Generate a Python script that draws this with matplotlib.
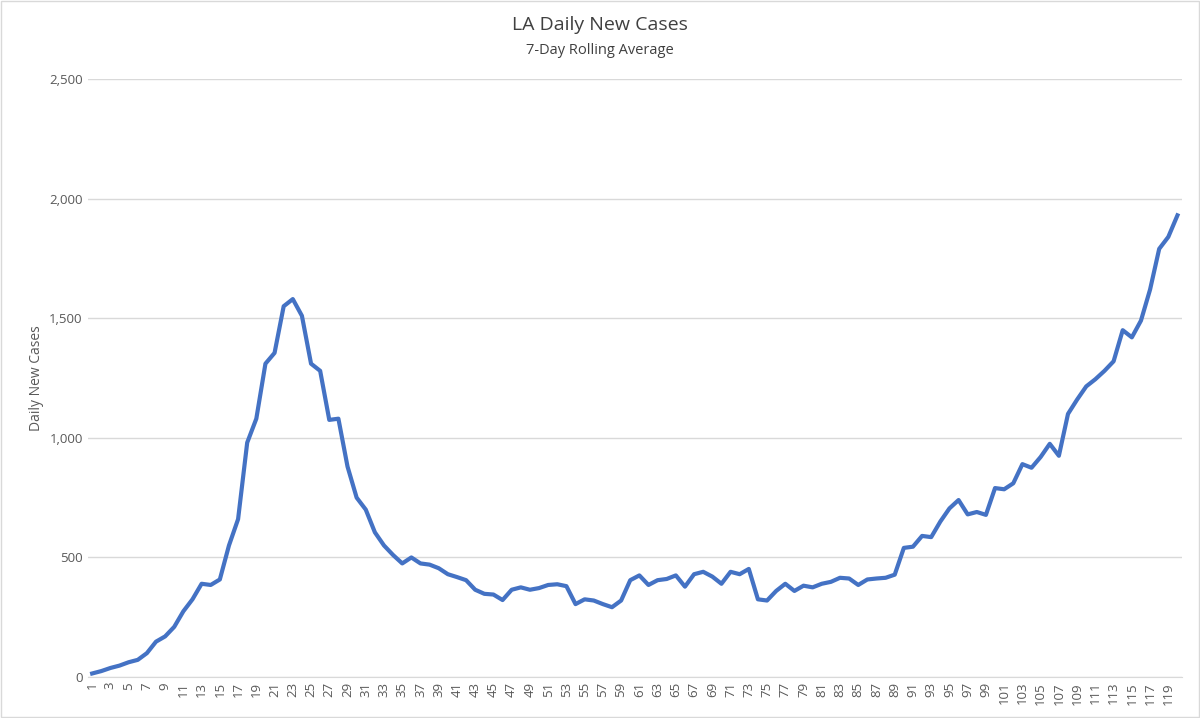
import matplotlib
matplotlib.use("Agg")
import matplotlib.pyplot as plt
from matplotlib.patches import Rectangle
from matplotlib.ticker import FuncFormatter

days = list(range(1, 121))
cases = [
    15, 25, 38, 48, 62, 72, 100, 148, 170, 210,
    275, 325, 390, 385, 408, 550, 660, 980, 1080, 1310,
    1355, 1550, 1580, 1510, 1310, 1280, 1075, 1080, 880, 750,
    700, 605, 550, 510, 475, 500, 475, 470, 455, 430,
    418, 405, 365, 348, 345, 322, 365, 375, 365, 372,
    385, 388, 380, 305, 325, 320, 305, 292, 320, 405,
    425, 385, 405, 410, 425, 378, 430, 440, 420, 390,
    440, 430, 452, 325, 320, 360, 390, 360, 382, 375,
    390, 398, 415, 412, 385, 408, 412, 415, 428, 540,
    545, 590, 585, 650, 705, 740, 680, 690, 678, 790,
    785, 810, 890, 875, 920, 975, 925, 1100, 1160, 1215,
    1245, 1280, 1320, 1450, 1420, 1490, 1620, 1790, 1840, 1930,
]

plt.rcParams["font.family"] = ["Open Sans", "DejaVu Sans"]
fig = plt.figure(figsize=(12, 7.18), dpi=100)
ax = fig.add_axes([0.073, 0.057, 0.912, 0.833])

ax.plot(days, cases, color="#4472C4", linewidth=3)
ax.set_xlim(0.5, 120.5)
ax.set_ylim(0, 2500)
ax.set_yticks(range(0, 2501, 500))
ax.yaxis.set_major_formatter(FuncFormatter(lambda v, p: f"{int(v):,}"))
ax.set_xticks(days[::2])
ax.set_xticklabels([str(d) for d in days[::2]], rotation=90)
ax.tick_params(axis="both", colors="#595959", labelsize=9.5, length=0)
ax.grid(axis="y", color="#D9D9D9", linewidth=1)
ax.set_axisbelow(True)
for s in ["top", "right", "left"]:
    ax.spines[s].set_visible(False)
ax.spines["bottom"].set_color("#D9D9D9")
ax.set_ylabel("Daily New Cases", color="#595959", fontsize=10)

fig.text(0.5, 0.958, "LA Daily New Cases", ha="center", fontsize=14, color="#404040")
fig.text(0.5, 0.925, "7-Day Rolling Average", ha="center", fontsize=10.5, color="#404040")

# thin frame around the whole chart
fig.patches.append(Rectangle((0.001, 0.001), 0.998, 0.998, transform=fig.transFigure,
                             fill=False, edgecolor="#D9D9D9", linewidth=1))

fig.savefig("out.png")
